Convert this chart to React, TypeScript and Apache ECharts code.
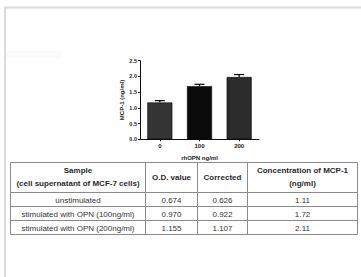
import React, { useEffect, useRef } from "react";
import * as echarts from "echarts";

const doses = ["0", "100", "200"];
const mcp1Means = [1.17, 1.69, 1.98];
const mcp1Errors = [0.06, 0.06, 0.08];
const yTicks = ["0.0", "0.5", "1.0", "1.5", "2.0", "2.5"];

const tableHeaders = [
  ["Sample", "(cell supernatant of MCF-7 cells)"],
  ["O.D. value"],
  ["Corrected"],
  ["Concentration of MCP-1", "(ng/ml)"],
];
const samples = [
  "unstimulated",
  "stimulated with OPN (100ng/ml)",
  "stimulated with OPN (200ng/ml)",
];
const odValues = ["0.674", "0.970", "1.155"];
const correctedValues = ["0.626", "0.922", "1.107"];
const concentrations = ["1.11", "1.72", "2.11"];

const FONT = "Liberation Sans, Arial, sans-serif";

function txt(x: number, y: number, text: string, size: number, bold: boolean, fill = "#2a2a2a") {
  return {
    type: "text",
    silent: true,
    style: {
      x,
      y,
      text,
      fill,
      font: `${bold ? "bold " : ""}${size}px ${FONT}`,
      align: "center",
      verticalAlign: "middle",
      textAlign: "center",
      textVerticalAlign: "middle",
    },
  };
}

function line(x1: number, y1: number, x2: number, y2: number, stroke: string, lw: number) {
  return {
    type: "line",
    silent: true,
    shape: { x1, y1, x2, y2 },
    style: { stroke, lineWidth: lw },
  };
}

export default function App() {
  const ref = useRef<HTMLDivElement>(null);
  useEffect(() => {
    if (!ref.current) return;
    const chart = echarts.init(ref.current, null, { renderer: "svg" });

    const colX = [10.5, 145.5, 197.5, 247.5, 357.5];
    const rowY = [162.5, 192.5, 206.5, 220.5, 234.5];
    const border = "#8a8a8a";
    const graphics: any[] = [];
    // page frame
    graphics.push(line(4, 7.5, 361, 7.5, "#dcdcdc", 2));
    graphics.push(line(5, 7, 5, 277, "#dcdcdc", 2));
    graphics.push({
      type: "rect",
      silent: true,
      shape: { x: 6, y: 51, width: 56, height: 7 },
      style: { fill: "#fbfbfb" },
    });
    // table lines
    rowY.forEach((y) => graphics.push(line(colX[0], y, colX[4], y, border, 1)));
    colX.forEach((x) => graphics.push(line(x, rowY[0], x, rowY[4], border, 1)));
    // header text
    tableHeaders.forEach((h, i) => {
      const cx = (colX[i] + colX[i + 1]) / 2;
      if (h.length === 1) {
        graphics.push(txt(cx, (rowY[0] + rowY[1]) / 2, h[0], 8, true));
      } else {
        graphics.push(txt(cx, 170.5, h[0], 8, true));
        graphics.push(txt(cx, 183.5, h[1], 8, true));
      }
    });
    // body
    const cols = [samples, odValues, correctedValues, concentrations];
    cols.forEach((col, c) => {
      const cx = (colX[c] + colX[c + 1]) / 2;
      col.forEach((v, r) => {
        graphics.push(txt(cx, (rowY[r + 1] + rowY[r + 2]) / 2 + 0.5, v, 8, false, "#333"));
      });
    });

    const barColors = ["#353535", "#0b0b0b", "#2c2c2c"];

    chart.setOption({
      animation: false,
      backgroundColor: "#ffffff",
      grid: { left: 140, top: 60.7, width: 119, height: 78.6, containLabel: false },
      xAxis: {
        type: "category",
        data: doses,
        name: "rhOPN ng/ml",
        nameLocation: "middle",
        nameGap: 16,
        nameTextStyle: { fontFamily: FONT, fontSize: 6, fontWeight: "bold", color: "#222" },
        axisLine: { lineStyle: { color: "#111", width: 1 } },
        axisTick: { show: true, alignWithLabel: true, length: 2, lineStyle: { color: "#111" } },
        axisLabel: { fontFamily: FONT, fontSize: 6, fontWeight: "bold", color: "#222", margin: 4 },
      },
      yAxis: {
        type: "value",
        min: 0,
        max: 2.5,
        interval: 0.5,
        name: "MCP-1 (ng/ml)",
        nameLocation: "middle",
        nameGap: 15,
        nameRotate: 90,
        nameTextStyle: { fontFamily: FONT, fontSize: 6, fontWeight: "bold", color: "#222" },
        axisLine: { show: true, lineStyle: { color: "#111", width: 1 } },
        axisTick: { show: true, length: 2, lineStyle: { color: "#111" } },
        splitLine: { show: false },
        axisLabel: {
          fontFamily: FONT,
          fontSize: 5.5,
          fontWeight: "bold",
          color: "#222",
          margin: 3,
          formatter: (v: number) => yTicks[Math.round(v / 0.5)] ?? v.toFixed(1),
        },
      },
      series: [
        {
          type: "bar",
          barWidth: "63%",
          data: mcp1Means.map((v, i) => ({ value: v, itemStyle: { color: barColors[i] } })),
          itemStyle: { borderColor: "#000", borderWidth: 0.6 },
          z: 2,
        },
        {
          type: "custom",
          z: 3,
          data: mcp1Means.map((v, i) => [i, v, v + mcp1Errors[i]]),
          renderItem: (params: any, api: any) => {
            const i = api.value(0);
            const base = api.coord([i, api.value(1)]);
            const top = api.coord([i, api.value(2)]);
            const hw = 5;
            const st = { stroke: "#000", lineWidth: 1.2 };
            return {
              type: "group",
              children: [
                { type: "line", shape: { x1: base[0], y1: base[1], x2: top[0], y2: top[1] }, style: st },
                { type: "line", shape: { x1: top[0] - hw, y1: top[1], x2: top[0] + hw, y2: top[1] }, style: st },
              ],
            };
          },
        },
      ],
      graphic: graphics,
    });
    return () => chart.dispose();
  }, []);
  return (
    <div
      ref={ref}
      style={{ position: "absolute", left: 0, top: 0, width: 361, height: 277, background: "#fff" }}
    />
  );
}
